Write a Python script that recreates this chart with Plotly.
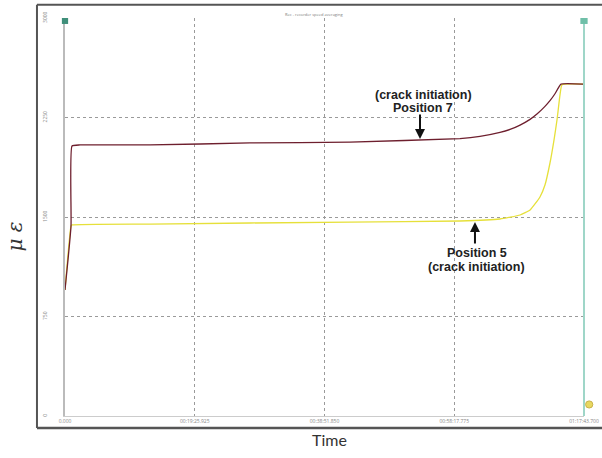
import plotly.graph_objects as go

# Strain record over time (seconds) for two gauge positions
t_pos7 = [0, 54, 63, 135, 764, 1662, 2561, 3549, 3729, 3909, 3999, 4089, 4179, 4241, 4313, 4358, 4403, 4457, 4655]
v_pos7 = [950, 1432, 2035, 2043, 2043, 2058, 2065, 2091, 2107, 2137, 2160, 2193, 2236, 2276, 2334, 2377, 2429, 2502, 2502]

t_pos5 = [0, 54, 63, 764, 2561, 3549, 3909, 4089, 4179, 4268, 4313, 4358, 4394, 4421, 4448, 4466, 4655]
v_pos5 = [950, 1432, 1440, 1447, 1462, 1470, 1485, 1515, 1553, 1651, 1741, 1907, 2080, 2231, 2420, 2497, 2502]

x_tick_vals = [0, 1165.925, 2331.85, 3497.775, 4663.7]
x_tick_text = ["0.000", "00:19:25.925", "00:38:51.850", "00:58:17.775", "01:17:43.700"]
y_tick_vals = [0, 750, 1500, 2250, 3000]
y_tick_text = ["0", "750", "1500", "2250", "3000"]

fig = go.Figure()
fig.add_trace(go.Scatter(x=t_pos5, y=v_pos5, mode="lines",
                         line=dict(color="#e6e03a", width=1.3, shape="spline", smoothing=0.4),
                         name="Position 5"))
fig.add_trace(go.Scatter(x=t_pos7, y=v_pos7, mode="lines",
                         line=dict(color="#6e1f2e", width=1.3, shape="spline", smoothing=0.4),
                         name="Position 7"))

fig.update_layout(
    width=602, height=458,
    margin=dict(l=65, r=18, t=18, b=42, autoexpand=False),
    paper_bgcolor="white", plot_bgcolor="white",
    showlegend=False,
    xaxis=dict(range=[0, 4663.7], tickvals=x_tick_vals, ticktext=x_tick_text,
               tickfont=dict(size=5, color="#888"), showgrid=True,
               gridcolor="#9a9a9a", griddash="3px,3px", gridwidth=1, automargin=False,
               zeroline=False, showline=True, linecolor="#ccc", linewidth=1,
               ticks="", fixedrange=True),
    yaxis=dict(range=[0, 3000], tickvals=y_tick_vals, ticktext=y_tick_text,
               tickfont=dict(size=5, color="#888"), tickangle=-90,
               ticklabelstandoff=14, showgrid=True, automargin=False,
               gridcolor="#9a9a9a", griddash="3px,3px", gridwidth=1,
               zeroline=False, showline=True, linecolor="#bbb", linewidth=2,
               mirror=False, ticks="", fixedrange=True),
)

# Outer frame of the recorder panel
fig.add_shape(type="line", xref="paper", yref="paper", x0=-0.054, x1=1.04, y0=1.033, y1=1.033,
              line=dict(color="#555", width=2))
fig.add_shape(type="line", xref="paper", yref="paper", x0=-0.054, x1=1.04, y0=-0.030, y1=-0.030,
              line=dict(color="#555", width=2.5))
fig.add_shape(type="line", xref="paper", yref="paper", x0=-0.054, x1=-0.054, y0=-0.030, y1=1.033,
              line=dict(color="#555", width=2))
# Right edge of the plot area
fig.add_shape(type="line", xref="paper", yref="paper", x0=1.0, x1=1.0, y0=0, y1=1.0,
              line=dict(color="#9fd6c8", width=2))
fig.add_shape(type="rect", xref="paper", yref="paper", x0=0.993, x1=1.007, y0=0.985, y1=1.0,
              line=dict(width=0), fillcolor="#6fbfa8")
fig.add_shape(type="rect", xref="paper", yref="paper", x0=-0.006, x1=0.006, y0=0.985, y1=1.0,
              line=dict(width=0), fillcolor="#3f8f7a")
# small status marker at the lower right
fig.add_shape(type="circle", xref="paper", yref="paper", x0=1.003, x1=1.017, y0=0.02, y1=0.038,
              line=dict(color="#c9b24a", width=1), fillcolor="#e8d860")

# Header text
fig.add_annotation(text="Rec - recorder speed averaging", xref="paper", yref="paper",
                   x=0.48, y=1.02, showarrow=False, font=dict(size=4, color="#777"))

# Axis titles
fig.add_annotation(text="Time", xref="paper", yref="paper", x=0.51, y=-0.06,
                   yanchor="middle", showarrow=False,
                   font=dict(family="Lato, Noto Sans", size=16, color="#333"))
fig.add_annotation(text="<i>μ ε</i>", xref="paper", yref="paper", x=-0.07, y=0.45,
                   xanchor="right", textangle=-90, showarrow=False,
                   font=dict(family="DejaVu Serif", size=20, color="#333"))

# Crack initiation callouts: arrows and labels
label_font = dict(family="Liberation Sans", size=12.5, color="#222")
fig.add_annotation(text="", x=3190, y=2088, ax=3190, ay=2284, axref="x", ayref="y",
                   showarrow=True, arrowhead=2, arrowsize=1, arrowwidth=2, arrowcolor="#111")
fig.add_annotation(text="<b>(crack initiation)</b>", x=3217, y=2420, showarrow=False, font=label_font)
fig.add_annotation(text="<b>Position 7</b>", x=3217, y=2322, showarrow=False, font=label_font)

fig.add_annotation(text="", x=3684, y=1462, ax=3684, ay=1289, axref="x", ayref="y",
                   showarrow=True, arrowhead=2, arrowsize=1, arrowwidth=2, arrowcolor="#111")
fig.add_annotation(text="<b>Position 5</b>", x=3702, y=1229, showarrow=False, font=label_font)
fig.add_annotation(text="<b>(crack initiation)</b>", x=3702, y=1123, showarrow=False, font=label_font)

fig.write_html("out.html")
